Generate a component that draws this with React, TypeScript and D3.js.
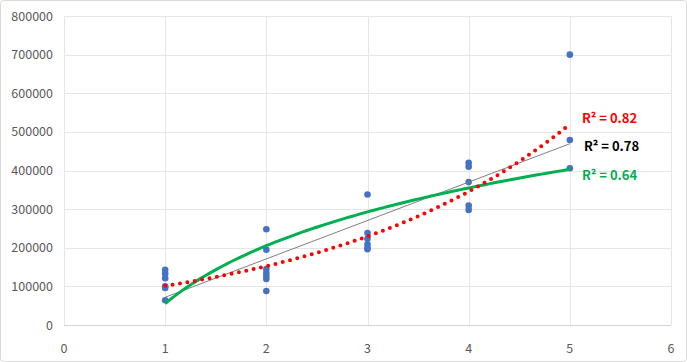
import React from "react";
import * as d3 from "d3";

const xValues = [
  1, 1, 1, 1, 1, 1,
  2, 2, 2, 2, 2, 2, 2,
  3, 3, 3, 3, 3, 3,
  4, 4, 4, 4, 4,
  5, 5, 5,
];
const yValues = [
  143000, 133000, 121000, 100000, 96000, 64000,
  248000, 195000, 145000, 135000, 127000, 119000, 88000,
  338000, 238000, 223000, 209000, 200000, 196000,
  420000, 410000, 370000, 309000, 298000,
  700000, 479000, 406000,
];
const xTicks = [0, 1, 2, 3, 4, 5, 6];
const yTicks = [0, 100000, 200000, 300000, 400000, 500000, 600000, 700000, 800000];
const r2Labels = ["R² = 0.82", "R² = 0.78", "R² = 0.64"];

const W = 687, H = 362;
const left = 64, right = 671, top = 16, bottom = 325;

function linReg(xs: number[], ys: number[]) {
  const n = xs.length;
  const mx = d3.mean(xs)!, my = d3.mean(ys)!;
  let sxy = 0, sxx = 0;
  for (let i = 0; i < n; i++) {
    sxy += (xs[i] - mx) * (ys[i] - my);
    sxx += (xs[i] - mx) ** 2;
  }
  const b = sxy / sxx;
  return { a: my - b * mx, b };
}

export default function App() {
  const x = d3.scaleLinear().domain([0, 6]).range([left, right]);
  const y = d3.scaleLinear().domain([0, 800000]).range([bottom, top]);

  const lin = linReg(xValues, yValues);
  const expR = linReg(xValues, yValues.map((v) => Math.log(v)));
  const logR = linReg(xValues.map((v) => Math.log(v)), yValues);

  const samples = d3.range(0, 101).map((i) => 1 + (4 * i) / 100);
  const line = d3
    .line<[number, number]>()
    .x((d) => x(d[0]))
    .y((d) => y(d[1]));

  const linPath = line([
    [1, lin.a + lin.b * 1],
    [5, lin.a + lin.b * 5],
  ]);
  const expPath = line(samples.map((t) => [t, Math.exp(expR.a + expR.b * t)] as [number, number]));
  const logPath = line(samples.map((t) => [t, logR.a + logR.b * Math.log(t)] as [number, number]));

  const font = "'Noto Sans CJK KR', 'DejaVu Sans', sans-serif";
  const px = (v: number) => Math.round(v) + 0.5;

  return (
    <svg
      width={W}
      height={H}
      style={{ position: "absolute", left: 0, top: 0, background: "#fff" }}
      fontFamily={font}
    >
      <rect x={0.5} y={0.5} width={W - 1} height={H - 1} rx={3} fill="#fff" stroke="#d9d9d9" />
      {yTicks.map((t) => (
        <line key={"gy" + t} x1={left} x2={right} y1={px(y(t))} y2={px(y(t))} stroke="#e6e6e6" strokeWidth={1} />
      ))}
      {xTicks.map((t) => (
        <line key={"gx" + t} x1={px(x(t))} x2={px(x(t))} y1={top} y2={bottom} stroke="#e6e6e6" strokeWidth={1} />
      ))}
      <line x1={left} x2={right} y1={px(bottom)} y2={px(bottom)} stroke="#d4d4d4" strokeWidth={1} />
      {yTicks.map((t) => (
        <text key={"ly" + t} x={53} y={y(t) + 4.5} textAnchor="end" fontSize={12.5} fill="#595959">
          {t}
        </text>
      ))}
      {xTicks.map((t) => (
        <text key={"lx" + t} x={x(t)} y={353} textAnchor="middle" fontSize={12.5} fill="#595959">
          {t}
        </text>
      ))}
      {xValues.map((xv, i) => (
        <circle key={"p" + i} cx={x(xv)} cy={y(yValues[i])} r={3.3} fill="#4472c4" />
      ))}
      <path d={linPath!} fill="none" stroke="#7f7f7f" strokeWidth={1} />
      <path d={logPath!} fill="none" stroke="#00b050" strokeWidth={3} />
      <path
        d={expPath!}
        fill="none"
        stroke="#ff0000"
        strokeWidth={4}
        strokeLinecap="round"
        strokeDasharray="0 7.5"
      />
      <text x={582} y={123} fontSize={13} fontWeight="bold" fill="#ff0000">{r2Labels[0]}</text>
      <text x={584} y={151} fontSize={13} fontWeight="bold" fill="#000000">{r2Labels[1]}</text>
      <text x={582} y={180} fontSize={13} fontWeight="bold" fill="#00b050">{r2Labels[2]}</text>
    </svg>
  );
}
